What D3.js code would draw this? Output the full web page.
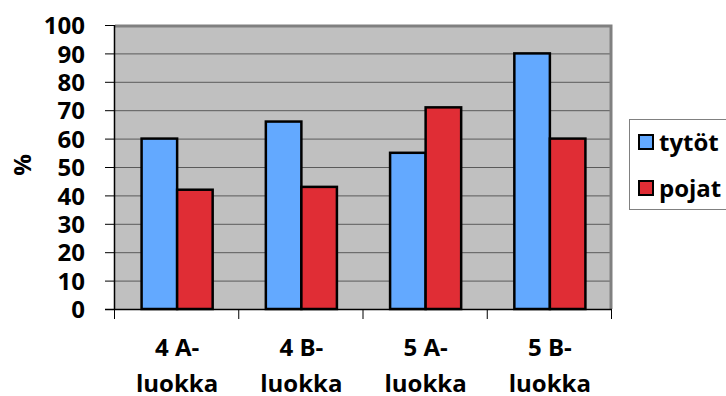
<!DOCTYPE html>
<html>
<head>
<meta charset="utf-8">
<script src="https://cdn.jsdelivr.net/npm/d3@7"></script>
<style>
  html, body { margin: 0; padding: 0; background: #fff; }
  svg text { font-family: "Open Sans", Lato, sans-serif; font-weight: bold; fill: #000; }
</style>
</head>
<body>
<svg id="chart" width="726" height="396"></svg>
<script>
// Class labels (two lines each), series names and values in percent
const categories = [["4 A-", "luokka"], ["4 B-", "luokka"], ["5 A-", "luokka"], ["5 B-", "luokka"]];
const seriesNames = ["tytöt", "pojat"];
const tytot = [60, 66, 55, 90];
const pojat = [42, 43, 71, 60];
const yTicks = [0, 10, 20, 30, 40, 50, 60, 70, 80, 90, 100];
const colors = ["#63a9ff", "#e02d35"];

const svg = d3.select("#chart");
const plot = { left: 115, right: 612, top: 25, bottom: 309 };

const x = d3.scaleBand()
  .domain(d3.range(categories.length))
  .range([plot.left, plot.right])
  .paddingInner(0)
  .paddingOuter(0);

const y = d3.scaleLinear().domain([0, 100]).range([plot.bottom, plot.top]);

// Plot area background
svg.append("rect")
  .attr("x", plot.left).attr("y", plot.top)
  .attr("width", plot.right - plot.left).attr("height", plot.bottom - plot.top)
  .attr("fill", "#c0c0c0");

// Horizontal gridlines
svg.append("g").selectAll("line")
  .data(yTicks.filter(d => d > 0 && d < 100))
  .join("line")
  .attr("x1", plot.left).attr("x2", plot.right)
  .attr("y1", d => y(d) + 0.5).attr("y2", d => y(d) + 0.5)
  .attr("stroke", "#5a5a5a").attr("stroke-width", 1);

// Top and right border of plot area
svg.append("path")
  .attr("d", `M${plot.left},${plot.top + 1} H${plot.right - 1} V${plot.bottom}`)
  .attr("fill", "none").attr("stroke", "#808080").attr("stroke-width", 3);

// Bars
const bw = x.bandwidth() * 0.286;
const series = [tytot, pojat];
series.forEach((vals, si) => {
  svg.append("g").selectAll("rect")
    .data(vals)
    .join("rect")
    .attr("x", (d, i) => x(i) + x.bandwidth() / 2 - bw + si * bw)
    .attr("y", d => y(d))
    .attr("width", bw)
    .attr("height", d => y(0) - y(d))
    .attr("fill", colors[si])
    .attr("stroke", "#000").attr("stroke-width", 2.5);
});

// Y axis
const yAxis = d3.axisLeft(y).tickValues(yTicks).tickSize(10).tickPadding(20);
const gy = svg.append("g").attr("transform", `translate(${plot.left},0)`).call(yAxis);
gy.select(".domain").attr("stroke", "#000").attr("stroke-width", 1.5).attr("d", `M-0.5,${plot.top}V${plot.bottom}`);
gy.selectAll(".tick line").attr("stroke", "#000");
gy.selectAll(".tick text")
  .attr("font-size", 24).attr("font-family", "'Open Sans', sans-serif").attr("font-weight", "bold")
  .attr("x", -30).attr("dy", "0.36em");

// X axis baseline and boundary ticks
svg.append("line")
  .attr("x1", plot.left - 10).attr("x2", plot.right)
  .attr("y1", plot.bottom + 0.5).attr("y2", plot.bottom + 0.5)
  .attr("stroke", "#000").attr("stroke-width", 1.5);
svg.append("g").selectAll("line")
  .data(d3.range(categories.length + 1))
  .join("line")
  .attr("x1", i => (i < categories.length ? x(i) : plot.right) - 0.5)
  .attr("x2", i => (i < categories.length ? x(i) : plot.right) - 0.5)
  .attr("y1", plot.bottom).attr("y2", plot.bottom + 10)
  .attr("stroke", "#000").attr("stroke-width", 1);

// Category labels
const cl = svg.append("g").selectAll("text")
  .data(categories)
  .join("text")
  .attr("text-anchor", "middle")
  .attr("font-size", 24);
cl.each(function (lines, i) {
  d3.select(this).selectAll("tspan")
    .data(lines)
    .join("tspan")
    .attr("x", x(i) + x.bandwidth() / 2)
    .attr("y", (d, j) => 356 + j * 36)
    .text(d => d);
});

// Y axis title
svg.append("text")
  .attr("transform", "translate(31,165) rotate(-90)")
  .attr("text-anchor", "middle")
  .attr("font-size", 24)
  .text("%");

// Legend
const lg = svg.append("g");
lg.append("rect")
  .attr("x", 629.5).attr("y", 119.5).attr("width", 110).attr("height", 90)
  .attr("fill", "#fff").attr("stroke", "#808080").attr("stroke-width", 1);
seriesNames.forEach((name, i) => {
  const cy = 142 + i * 46;
  lg.append("rect")
    .attr("x", 639).attr("y", cy - 7).attr("width", 14).attr("height", 14)
    .attr("fill", colors[i]).attr("stroke", "#000").attr("stroke-width", 2);
  lg.append("text")
    .attr("x", 659).attr("y", cy).attr("dy", "0.36em")
    .attr("font-size", 24)
    .text(name);
});
</script>
</body>
</html>
